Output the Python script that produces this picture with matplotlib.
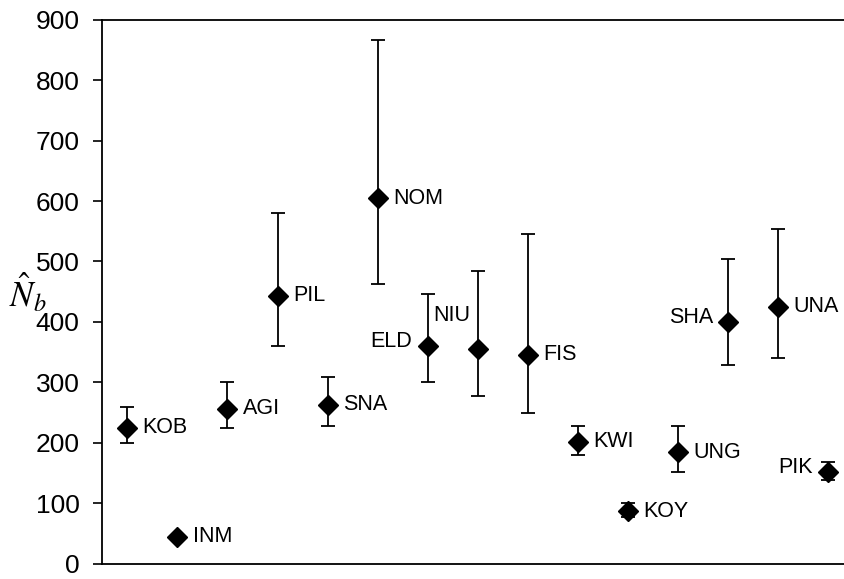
import matplotlib
matplotlib.use("Agg")
import matplotlib.pyplot as plt

sites = ["KOB", "INM", "AGI", "PIL", "SNA", "NOM", "ELD", "NIU", "FIS", "KWI", "KOY", "UNG", "SHA", "UNA", "PIK"]
estimate = [225, 45, 256, 443, 263, 605, 360, 355, 346, 202, 87, 184, 400, 425, 152]
upper = [259, 45, 301, 580, 309, 866, 447, 484, 545, 228, 100, 228, 504, 553, 169]
lower = [200, 45, 225, 360, 228, 462, 300, 278, 250, 180, 77, 152, 329, 341, 138]
label_side = ["r", "r", "r", "r", "r", "r", "l", "ul", "r", "r", "r", "r", "l", "r", "l"]
yticks = [0, 100, 200, 300, 400, 500, 600, 700, 800, 900]

plt.rcParams["font.family"] = ["Liberation Sans", "DejaVu Sans"]
plt.rcParams["mathtext.fontset"] = "stix"

fig = plt.figure(figsize=(8.45, 5.79), dpi=100)
ax = fig.add_axes([102.3 / 845, 15.3 / 579, 751 / 845, 544 / 579])

x = list(range(1, len(sites) + 1))
yerr = [[e - l for e, l in zip(estimate, lower)], [u - e for e, u in zip(estimate, upper)]]
ax.errorbar(x, estimate, yerr=yerr, fmt="D", color="black", markersize=10.5,
            ecolor="black", elinewidth=1.3, capsize=5, capthick=1.3)

for xi, yi, s, side in zip(x, estimate, sites, label_side):
    if side == "r":
        ax.annotate(s, (xi, yi), xytext=(11, 0), textcoords="offset points",
                    ha="left", va="center", fontsize=15.5)
    elif side == "l":
        ax.annotate(s, (xi, yi), xytext=(-11, 3), textcoords="offset points",
                    ha="right", va="center", fontsize=15.5)
    else:
        ax.annotate(s, (xi, yi), xytext=(-19, 24), textcoords="offset points",
                    ha="center", va="center", fontsize=15.5)

ax.set_xlim(0.5, len(sites) + 0.5)
ax.set_ylim(0, 900)
ax.set_yticks(yticks)
ax.set_yticklabels([str(t) for t in yticks], fontsize=19)
ax.set_xticks([])
ax.tick_params(axis="y", direction="out", length=6.5, width=1.2, pad=10)
for sp in ax.spines.values():
    sp.set_linewidth(1.3)

fig.text(28 / 845, 1 - 293 / 579, r"$\hat{N}_b$", fontsize=25, ha="center", va="center")

fig.savefig("out.png", dpi=100)
